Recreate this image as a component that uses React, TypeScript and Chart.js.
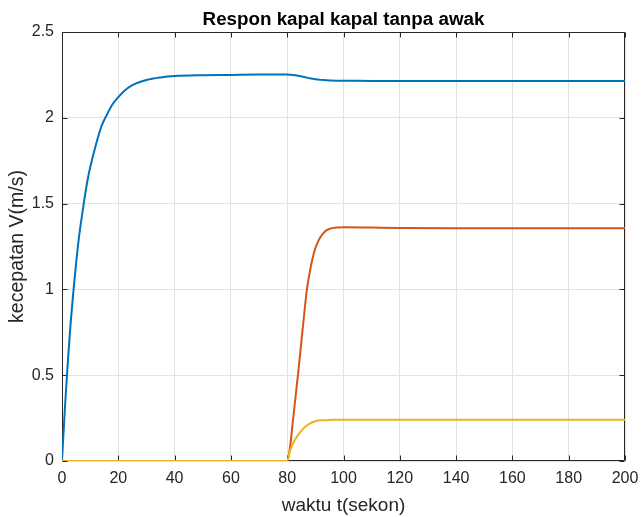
import React, { useEffect, useRef } from "react";
import { Chart, registerables } from "chart.js";

Chart.register(...registerables);

// Simulation time (s)
const timeSec = [
  0, 1, 2, 3, 4, 5, 6, 7, 8, 9, 10, 12, 14, 16, 18, 20, 22, 25, 30, 35, 40, 50, 60, 70, 80,
  81, 82, 83, 84, 85, 86, 87, 88, 89, 90, 91, 92, 93, 94, 95, 96, 98, 100,
  110, 120, 140, 160, 180, 200,
];

// Speed responses V (m/s)
const speedBlue = [
  0, 0.3, 0.56, 0.79, 0.98, 1.15, 1.3, 1.42, 1.53, 1.63, 1.71, 1.84, 1.95, 2.02, 2.08, 2.12, 2.155,
  2.19, 2.22, 2.235, 2.243, 2.248, 2.25, 2.252, 2.252,
  2.251, 2.25, 2.248, 2.245, 2.242, 2.238, 2.234, 2.23, 2.227, 2.225, 2.223, 2.221, 2.22, 2.219,
  2.218, 2.217, 2.216, 2.216,
  2.215, 2.215, 2.215, 2.215, 2.215, 2.215,
];

const speedRed = [
  0, 0, 0, 0, 0, 0, 0, 0, 0, 0, 0, 0, 0, 0, 0, 0, 0, 0, 0, 0, 0, 0, 0, 0, 0,
  0.08, 0.23, 0.38, 0.53, 0.69, 0.85, 1.0, 1.1, 1.18, 1.24, 1.28, 1.31, 1.33, 1.345, 1.352, 1.357,
  1.361, 1.362,
  1.36, 1.358, 1.357, 1.357, 1.357, 1.357,
];

const speedYellow = [
  0, 0, 0, 0, 0, 0, 0, 0, 0, 0, 0, 0, 0, 0, 0, 0, 0, 0, 0, 0, 0, 0, 0, 0, 0,
  0.06, 0.1, 0.13, 0.155, 0.175, 0.193, 0.207, 0.218, 0.226, 0.232, 0.236, 0.238, 0.237, 0.238,
  0.239, 0.24, 0.24, 0.24,
  0.24, 0.24, 0.24, 0.24, 0.24, 0.24,
];

const xTicks = [0, 20, 40, 60, 80, 100, 120, 140, 160, 180, 200];
const yTicks = [0, 0.5, 1, 1.5, 2, 2.5];

const titleText = "Respon kapal kapal tanpa awak";
const xLabel = "waktu t(sekon)";
const yLabel = "kecepatan V(m/s)";

const AXIS_COLOR = "#262626";
const GRID_COLOR = "#e2e2e2";
const FONT = "'Liberation Sans', Arial, Helvetica, sans-serif";

const toPoints = (ys: number[]) => timeSec.map((t, i) => ({ x: t, y: ys[i] }));

// Box around the plot area with inward tick marks on all four sides, plus the title
const boxPlugin = {
  id: "axesBox",
  beforeDatasetsDraw(chart: any) {
    const { ctx, chartArea } = chart;
    const { left, right, top, bottom } = chartArea;
    const xs = chart.scales.x;
    const ysc = chart.scales.y;
    const len = 5;
    ctx.save();
    ctx.strokeStyle = AXIS_COLOR;
    ctx.lineWidth = 1;
    ctx.beginPath();
    const L = Math.round(left) + 0.5;
    const R = Math.round(right) - 0.5;
    const T = Math.round(top) + 0.5;
    const B = Math.round(bottom) - 0.5;
    ctx.rect(L, T, R - L, B - T);
    xTicks.forEach((v) => {
      const px = Math.round(xs.getPixelForValue(v)) + 0.5;
      ctx.moveTo(px, B);
      ctx.lineTo(px, B - len);
      ctx.moveTo(px, T);
      ctx.lineTo(px, T + len);
    });
    yTicks.forEach((v) => {
      const py = Math.round(ysc.getPixelForValue(v)) + 0.5;
      ctx.moveTo(L, py);
      ctx.lineTo(L + len, py);
      ctx.moveTo(R, py);
      ctx.lineTo(R - len, py);
    });
    ctx.stroke();
    ctx.restore();
  },
  afterDraw(chart: any) {
    const { ctx, chartArea } = chart;
    ctx.save();
    ctx.fillStyle = "#000000";
    ctx.font = `bold 18.8px ${FONT}`;
    ctx.textAlign = "center";
    ctx.textBaseline = "alphabetic";
    ctx.fillText(titleText, (chartArea.left + chartArea.right) / 2, 25);
    ctx.restore();
  },
};

export default function App() {
  const canvasRef = useRef<HTMLCanvasElement | null>(null);

  useEffect(() => {
    if (!canvasRef.current) return;
    const chart = new Chart(canvasRef.current, {
      type: "line",
      data: {
        datasets: [
          {
            label: "V1",
            data: toPoints(speedBlue),
            borderColor: "#0072BD",
            borderWidth: 2,
            pointRadius: 0,
            cubicInterpolationMode: "monotone",
            order: 2,
          },
          {
            label: "V2",
            data: toPoints(speedRed),
            borderColor: "#D95319",
            borderWidth: 2,
            pointRadius: 0,
            cubicInterpolationMode: "monotone",
            order: 1,
          },
          {
            label: "V3",
            data: toPoints(speedYellow),
            borderColor: "#EDB120",
            borderWidth: 2,
            pointRadius: 0,
            cubicInterpolationMode: "monotone",
            order: 0,
          },
        ],
      },
      options: {
        responsive: false,
        animation: false,
        events: [],
        layout: { padding: { top: 32, right: 17, bottom: 0, left: 0 } },
        plugins: {
          legend: { display: false },
          title: { display: false },
          tooltip: { enabled: false },
        },
        scales: {
          x: {
            type: "linear",
            min: 0,
            max: 200,
            afterBuildTicks: (scale: any) => {
              scale.ticks = xTicks.map((v) => ({ value: v }));
            },
            afterFit: (scale: any) => {
              scale.height = 56;
              scale.paddingLeft = 0;
              scale.paddingRight = 0;
            },
            grid: { color: GRID_COLOR, drawTicks: false, lineWidth: 1 },
            border: { display: false },
            ticks: {
              padding: 8,
              maxRotation: 0,
              color: AXIS_COLOR,
              font: { family: FONT, size: 16 },
              callback: (v: any) => String(v),
            },
            title: {
              display: true,
              text: xLabel,
              color: AXIS_COLOR,
              font: { family: FONT, size: 19 },
              padding: { top: 0, bottom: 0 },
            },
          },
          y: {
            type: "linear",
            min: 0,
            max: 2.5,
            afterBuildTicks: (scale: any) => {
              scale.ticks = yTicks.map((v) => ({ value: v }));
            },
            afterFit: (scale: any) => {
              scale.width = 62;
              scale.paddingTop = 0;
              scale.paddingBottom = 0;
            },
            grid: { color: GRID_COLOR, drawTicks: false, lineWidth: 1 },
            border: { display: false },
            ticks: {
              padding: 8,
              color: AXIS_COLOR,
              font: { family: FONT, size: 16 },
              callback: (v: any) => String(v),
            },
            title: {
              display: true,
              text: yLabel,
              color: AXIS_COLOR,
              font: { family: FONT, size: 19.5 },
              padding: { top: 6, bottom: 0 },
            },
          },
        },
      },
      plugins: [boxPlugin],
    });
    return () => chart.destroy();
  }, []);

  return (
    <div style={{ position: "fixed", left: 0, top: 0, width: 642, height: 517, background: "#ffffff" }}>
      <canvas ref={canvasRef} width={642} height={517} />
    </div>
  );
}
